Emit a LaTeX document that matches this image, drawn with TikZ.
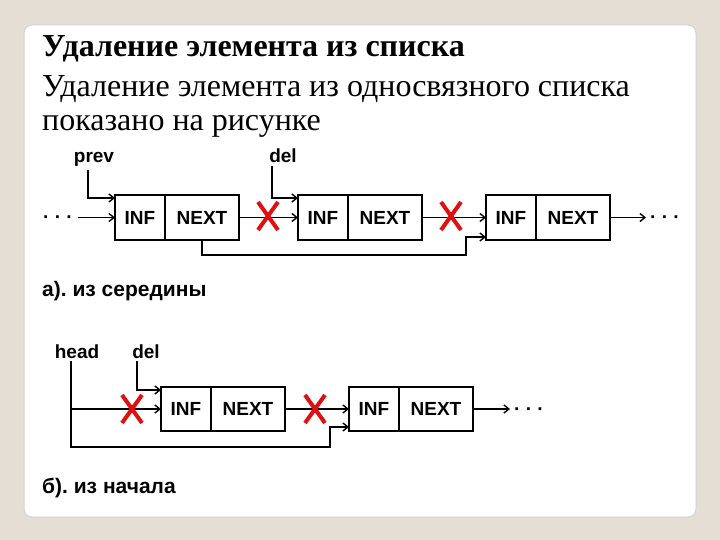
\documentclass[tikz,border=0pt]{standalone}
\usepackage{fontspec}
\setmainfont{Liberation Serif}
\newfontfamily\diag{Liberation Sans}
\usetikzlibrary{arrows.meta,calc}
\definecolor{bgbeige}{HTML}{E5DED5}
\definecolor{xred}{HTML}{E01010}
\begin{document}
\begin{tikzpicture}[x=1pt,y=-1pt,
  cell/.style={draw, line width=1.4pt, minimum height=45pt, inner sep=0pt, outer sep=0pt, font=\diag\bfseries\fontsize{19}{19}\selectfont},
  infc/.style={cell, minimum width=50pt},
  nextc/.style={cell, minimum width=74pt},
  lbl/.style={font=\diag\bfseries\fontsize{19}{19}\selectfont, inner sep=0pt},
  capt/.style={font=\diag\bfseries\fontsize{21}{21}\selectfont, inner sep=0pt, anchor=base west},
  dotsn/.style={font=\diag\bfseries\fontsize{19}{19}\selectfont, inner sep=0pt, anchor=base},
  ptr/.style={line width=1.4pt, -{Straight Barb[length=5pt,width=8pt]}},
  xmark/.style={xred, line width=4pt},
  ttl/.style={anchor=base west, inner sep=0pt, font=\fontsize{32}{32}\selectfont}
]
\useasboundingbox (0,0) rectangle (720,540);
\fill[bgbeige] (0,0) rectangle (720,540);
\draw[gray!35, line width=1pt, fill=white, rounded corners=8pt] (24,25) rectangle (696,517);

% title
\node[ttl, font=\bfseries\fontsize{32}{32}\selectfont] (t1) at (42,57) {Удаление элемента из списка};
\node[ttl] (t2) at (42,97) {Удаление элемента из односвязного списка};
\node[ttl] (t3) at (42,131) {показано на рисунке};

% ---- part a
\node[infc, anchor=north west] (i1) at (115,195) {INF};
\node[nextc, anchor=west] (n1) at (i1.east) {NEXT};
\node[infc, anchor=north west] (i2) at (298,195) {INF};
\node[nextc, anchor=west] (n2) at (i2.east) {NEXT};
\node[infc, anchor=north west] (i3) at (486,195) {INF};
\node[nextc, anchor=west] (n3) at (i3.east) {NEXT};

\node[dotsn] (dl) at (58,224) {· · ·};
\node[dotsn] (dr) at (665,224) {· · ·};
\node[lbl, anchor=base] (prev) at (94,163) {prev};
\node[lbl, anchor=base] (del) at (283,163) {del};

\draw[ptr] ([xshift=5pt]dl.east |- i1.west) -- (i1.west);
\draw[ptr] ($(prev.south)+(-6,3)$) |- ($(i1.north west)+(0,3)$);
\draw[ptr] ($(del.south)+(-11,3)$) |- ($(i2.north west)+(0,3)$);
\draw[ptr] (n1.east) -- (i2.west);
\draw[ptr] (n1.south) -- ++(0,15) -| ($(i3.south west)+(-20,-3)$) -- ($(i3.south west)+(0,-3)$);
\draw[ptr] (n2.east) -- (i3.west);
\draw[ptr] (n3.east) -- ([xshift=-4pt]dr.west |- n3.east);

\draw[xmark] (268,216) +(-10,-14) -- +(10,14) +(10,-14) -- +(-10,14);
\draw[xmark] (451,216) +(-10,-14) -- +(10,14) +(10,-14) -- +(-10,14);

\node[capt] (capA) at (42,296) {а).~из середины};

% ---- part b
\node[infc, anchor=north west, minimum height=44pt] (ib1) at (161,387) {INF};
\node[nextc, anchor=west, minimum height=44pt] (nb1) at (ib1.east) {NEXT};
\node[infc, anchor=north west, minimum height=44pt] (ib2) at (349,387) {INF};
\node[nextc, anchor=west, minimum height=44pt] (nb2) at (ib2.east) {NEXT};

\node[dotsn] (drb) at (529,415) {· · ·};
\node[lbl, anchor=base] (head) at (77,358) {head};
\node[lbl, anchor=base] (delb) at (146,358) {del};

\coordinate (hv) at ($(head.south)+(-6,3)$);
\draw[ptr] (hv) |- ($(ib1.south west)+(0,16)$) -| ($(ib2.south west)+(-19,-4)$) -- ($(ib2.south west)+(0,-4)$);
\draw[ptr] (hv |- ib1.west) -- (ib1.west);
\draw[ptr] ($(delb.south)+(-9,3)$) |- ($(ib1.north west)+(0,3)$);
\draw[ptr] (nb1.east) -- (ib2.west);
\draw[ptr] (nb2.east) -- ([xshift=-4pt]drb.west |- nb2.east);

\draw[xmark] (132,409) +(-10,-14) -- +(10,14) +(10,-14) -- +(-10,14);
\draw[xmark] (315,409) +(-10,-14) -- +(10,14) +(10,-14) -- +(-10,14);

\node[capt] (capB) at (42,493) {б).~из начала};
\end{tikzpicture}
\end{document}
